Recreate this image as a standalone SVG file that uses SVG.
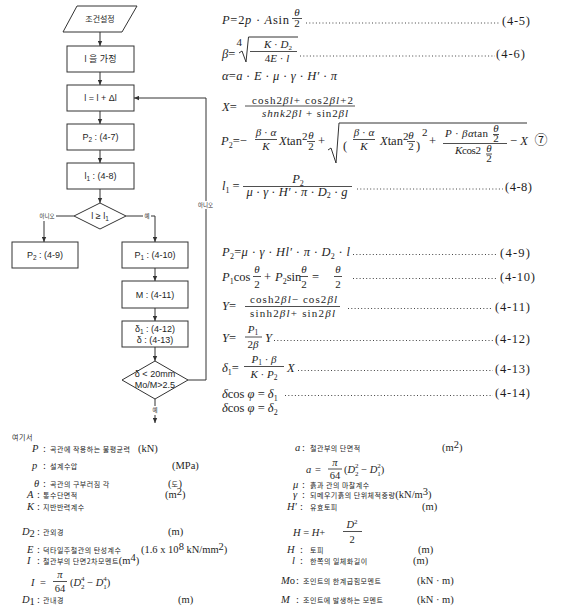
<svg xmlns="http://www.w3.org/2000/svg" width="570" height="615" viewBox="0 0 570 615">
<style>
text{fill:#1e1e1e}
.f{font-family:"Liberation Sans","Noto Sans CJK KR",sans-serif;font-size:9px;text-anchor:middle}
.fk{font-family:"Noto Sans CJK KR",sans-serif;font-size:8px;text-anchor:middle}
.lb{font-family:"Noto Sans CJK KR",sans-serif;font-size:5.5px;text-anchor:middle}
.nd{fill:#fff;stroke:#333;stroke-width:1}
.cn{fill:none;stroke:#333;stroke-width:1}
.m{font-family:"Liberation Serif",serif;font-size:12.5px}
.s{font-family:"Liberation Serif",serif;font-size:11px}
.i{font-style:italic}
.c{text-anchor:middle}
.dt{stroke:#444;stroke-width:1;stroke-dasharray:1 2.3;fill:none}
.bar{stroke:#222;stroke-width:0.8}
.k{font-family:"Noto Sans CJK KR",sans-serif;font-size:7px;letter-spacing:0.5px}
.lt{font-family:"Liberation Serif",serif;font-size:10.5px}
</style>
<defs>
<marker id="ar" markerWidth="5" markerHeight="5" refX="5" refY="2.5" orient="auto" markerUnits="userSpaceOnUse"><path d="M0,0.3 L5,2.5 L0,4.7 z" fill="#333"/></marker>
</defs>
<rect width="570" height="615" fill="#fff"/>

<!-- Flowchart nodes -->
<g id="n-start"><polygon class="nd" points="77,6 137,6 122,32 63,32"/><text class="fk" x="100" y="22">조건설정</text></g>
<g id="n-assume"><rect class="nd" x="67" y="46" width="67" height="26"/><text class="f" x="100.5" y="62">l 을 가정</text></g>
<g id="n-incr"><rect class="nd" x="67" y="85" width="67" height="26"/><text class="f" x="100.5" y="101">l = l + Δl</text></g>
<g id="n-p2"><rect class="nd" x="67" y="124" width="67" height="26"/><text class="f" x="100.5" y="140">P<tspan dy="2" font-size="6.5">2</tspan><tspan dy="-2"> : (4-7)</tspan></text></g>
<g id="n-l1"><rect class="nd" x="67" y="163" width="67" height="26"/><text class="f" x="100.5" y="179">l<tspan dy="2" font-size="6.5">1</tspan><tspan dy="-2"> : (4-8)</tspan></text></g>
<g id="n-d1"><polygon class="nd" points="100,203 126,216 100,229 74,216"/><text class="f" x="100" y="219">l ≥ l<tspan dy="2" font-size="6.5">1</tspan></text></g>
<g id="n-p2b"><rect class="nd" x="12" y="242" width="66" height="26"/><text class="f" x="45" y="258">P<tspan dy="2" font-size="6.5">2</tspan><tspan dy="-2"> : (4-9)</tspan></text></g>
<g id="n-p1"><rect class="nd" x="122" y="242" width="66" height="26"/><text class="f" x="155" y="258">P<tspan dy="2" font-size="6.5">1</tspan><tspan dy="-2"> : (4-10)</tspan></text></g>
<g id="n-m"><rect class="nd" x="122" y="281" width="66" height="27"/><text class="f" x="155" y="298">M : (4-11)</text></g>
<g id="n-delta"><rect class="nd" x="122" y="321" width="66" height="26"/><text class="f" x="155" y="332">δ<tspan dy="2" font-size="6.5">1</tspan><tspan dy="-2"> : (4-12)</tspan></text><text class="f" x="155" y="343">δ : (4-13)</text></g>
<g id="n-d2"><polygon class="nd" points="155,361 188,380 155,399 122,380"/><text class="f" x="155" y="377" font-size="8.5">δ &lt; 20mm</text><text class="f" x="155" y="388" font-size="8.5">Mo/M&gt;2.5</text></g>

<!-- Connectors -->
<g id="connectors">
<line class="cn" x1="100" y1="32" x2="100" y2="46" marker-end="url(#ar)"/>
<line class="cn" x1="100" y1="72" x2="100" y2="85" marker-end="url(#ar)"/>
<line class="cn" x1="100" y1="111" x2="100" y2="124" marker-end="url(#ar)"/>
<line class="cn" x1="100" y1="150" x2="100" y2="163" marker-end="url(#ar)"/>
<line class="cn" x1="100" y1="189" x2="100" y2="203" marker-end="url(#ar)"/>
<line class="cn" x1="74" y1="216" x2="56" y2="216"/>
<text class="lb" x="47" y="218">아니오</text>
<line class="cn" x1="44" y1="221" x2="44" y2="242" marker-end="url(#ar)"/>
<line class="cn" x1="126" y1="216" x2="143" y2="216"/>
<text class="lb" x="147" y="218">예</text>
<polyline class="cn" points="151,216 155,216 155,242" marker-end="url(#ar)"/>
<line class="cn" x1="155" y1="268" x2="155" y2="281" marker-end="url(#ar)"/>
<line class="cn" x1="155" y1="308" x2="155" y2="321" marker-end="url(#ar)"/>
<line class="cn" x1="155" y1="347" x2="155" y2="361" marker-end="url(#ar)"/>
<line class="cn" x1="155" y1="399" x2="155" y2="406"/>
<text class="lb" x="155" y="412">예</text>
<line class="cn" x1="155" y1="415" x2="155" y2="423" marker-end="url(#ar)"/>
<polyline class="cn" points="188,380 206,380 206,98 134,98" marker-end="url(#ar)"/>
<rect x="195" y="201" width="21" height="8" fill="#fff"/>
<text class="lb" x="205.5" y="207">아니오</text>
</g>

<!-- Equations -->
<g id="eq-4-5">
<text class="m" x="222" y="24" font-size="13" textLength="67"><tspan class="i">P</tspan>=2<tspan class="i">p</tspan> · <tspan class="i">A</tspan>sin</text>
<text class="s i c" x="297" y="16">θ</text><line class="bar" x1="292" y1="18.5" x2="302" y2="18.5"/><text class="s c" x="297" y="27">2</text>
<line class="dt" x1="306" y1="23" x2="500" y2="23"/>
<text class="m" x="502" y="25" textLength="28">(4-5)</text>
</g>
<g id="eq-4-6">
<text class="m" x="222" y="58" font-size="13"><tspan class="i">β</tspan>=</text>
<text class="s" x="236.5" y="46" font-size="7">4</text>
<path class="cn" stroke-width="0.9" d="M239,53 L242,51 L246,62 L248.5,37 L298,37"/>
<text class="s c" x="278" y="48"><tspan class="i">K</tspan> · <tspan class="i">D</tspan><tspan dy="2" font-size="7">2</tspan></text>
<line class="bar" x1="250" y1="51.5" x2="297" y2="51.5"/>
<text class="s c" x="277" y="62">4<tspan class="i">E</tspan> · <tspan class="i">l</tspan></text>
<line class="dt" x1="300" y1="56" x2="495" y2="56"/>
<text class="m" x="496" y="58" textLength="29">(4-6)</text>
</g>
<g id="eq-alpha">
<text class="m" x="222" y="80" font-size="13" textLength="115"><tspan class="i">α</tspan>=<tspan class="i">a</tspan> · <tspan class="i">E</tspan> · <tspan class="i">μ</tspan> · <tspan class="i">γ</tspan> · <tspan class="i">H′</tspan> · <tspan class="i">π</tspan></text>
</g>
<g id="eq-X">
<text class="m" x="222" y="111" font-size="13"><tspan class="i">X</tspan>=</text>
<text class="s" x="252" y="103.5" font-size="12" textLength="101">cosh2<tspan class="i">βl</tspan>+ cos2<tspan class="i">βl</tspan>+2</text>
<line class="bar" x1="245" y1="106" x2="355" y2="106"/>
<text class="s" x="262" y="116.5" font-size="12" textLength="86"><tspan class="i">shnk2βl</tspan> + sin2<tspan class="i">βl</tspan></text>
</g>
<g id="eq-4-7">
<text class="m" x="221" y="145" font-size="12"><tspan class="i">P</tspan><tspan dy="2.5" font-size="8">2</tspan><tspan dy="-2.5">=−</tspan></text>
<text class="s c" x="266" y="136" font-size="10"><tspan class="i">β</tspan> · <tspan class="i">α</tspan></text>
<line class="bar" x1="255" y1="139.5" x2="277" y2="139.5"/>
<text class="s c i" x="266" y="150" font-size="10">K</text>
<text class="m" x="279" y="145" font-size="12"><tspan class="i">X</tspan>tan</text>
<text class="s" x="302" y="140" font-size="7">2</text>
<text class="s i c" x="311" y="139" font-size="10">θ</text><line class="bar" x1="307" y1="141.5" x2="315" y2="141.5"/><text class="s c" x="311" y="150" font-size="10">2</text>
<text class="m" x="318" y="145" font-size="12">+</text>
<path class="cn" stroke-width="0.9" d="M328,150 L331,148 L336,163 L339,123 L527,123"/>
<text class="m" x="343" y="150" font-size="17">(</text>
<text class="s c" x="364" y="136" font-size="10"><tspan class="i">β</tspan> · <tspan class="i">α</tspan></text>
<line class="bar" x1="353" y1="139.5" x2="375" y2="139.5"/>
<text class="s c i" x="364" y="150" font-size="10">K</text>
<text class="m" x="380" y="145" font-size="12"><tspan class="i">X</tspan>tan</text>
<text class="s" x="403" y="140" font-size="7">2</text>
<text class="s i c" x="411" y="139" font-size="10">θ</text><line class="bar" x1="407" y1="141.5" x2="415" y2="141.5"/><text class="s c" x="411" y="150" font-size="10">2</text>
<text class="m" x="416" y="150" font-size="17">)</text>
<text class="s" x="422" y="136" font-size="7">2</text>
<text class="m" x="429" y="145" font-size="12">+</text>
<text class="s" x="445" y="137" font-size="10" textLength="43"><tspan class="i">P</tspan> · <tspan class="i">βα</tspan>tan</text>
<text class="s i c" x="496" y="132" font-size="7.5">θ</text><line class="bar" x1="493" y1="134.5" x2="499" y2="134.5" stroke-width="0.6"/><text class="s c" x="496" y="141.5" font-size="7.5">2</text>
<line class="bar" x1="443" y1="143.5" x2="507" y2="143.5"/>
<text class="s" x="455" y="154" font-size="10" textLength="26"><tspan class="i">K</tspan>cos2</text>
<text class="s i c" x="489" y="151.5" font-size="7.5">θ</text><line class="bar" x1="486" y1="154" x2="492" y2="154" stroke-width="0.6"/><text class="s c" x="489" y="161.5" font-size="7.5">2</text>
<text class="m" x="510" y="145" font-size="12">− <tspan class="i">X</tspan></text>
<text x="541" y="144" font-family="Noto Sans CJK KR, sans-serif" font-size="13" text-anchor="middle">⑦</text>
</g>
<g id="eq-4-8">
<text class="m" x="222" y="190" font-size="13"><tspan class="i">l</tspan><tspan dy="2.5" font-size="8">1</tspan><tspan dy="-2.5"> =</tspan></text>
<text class="m c" x="298" y="183"><tspan class="i">P</tspan><tspan dy="2.5" font-size="8">2</tspan></text>
<line class="bar" x1="243" y1="186.5" x2="352" y2="186.5"/>
<text class="m c" x="297" y="196" font-size="12" textLength="101"><tspan class="i">μ</tspan> · <tspan class="i">γ</tspan> · <tspan class="i">H′</tspan> · <tspan class="i">π</tspan> · <tspan class="i">D</tspan><tspan dy="2" font-size="8">2</tspan><tspan dy="-2"> · </tspan><tspan class="i">g</tspan></text>
<line class="dt" x1="357" y1="189" x2="503" y2="189"/>
<text class="m" x="505" y="191" textLength="27">(4-8)</text>
</g>
<g id="eq-4-9">
<text class="m" x="222" y="256" font-size="13" textLength="128"><tspan class="i">P</tspan><tspan dy="2.5" font-size="8">2</tspan><tspan dy="-2.5">=</tspan><tspan class="i">μ</tspan> · <tspan class="i">γ</tspan> · <tspan class="i">Hl′</tspan> · <tspan class="i">π</tspan> · <tspan class="i">D</tspan><tspan dy="2.5" font-size="8">2</tspan><tspan dy="-2.5"> · </tspan><tspan class="i">l</tspan></text>
<line class="dt" x1="353" y1="254.5" x2="498" y2="254.5"/>
<text class="m" x="500" y="257" textLength="30">(4-9)</text>
</g>
<g id="eq-4-10">
<text class="m" x="222" y="281" font-size="13"><tspan class="i">P</tspan><tspan dy="2.5" font-size="8">1</tspan><tspan dy="-2.5">cos</tspan></text>
<text class="s i c" x="257" y="273">θ</text><line class="bar" x1="253" y1="276.5" x2="261" y2="276.5"/><text class="s c" x="257" y="288">2</text>
<text class="m" x="264" y="281">+</text>
<text class="m" x="275" y="281" font-size="13"><tspan class="i">P</tspan><tspan dy="2.5" font-size="8">2</tspan><tspan dy="-2.5">sin</tspan></text>
<text class="s i c" x="304" y="273">θ</text><line class="bar" x1="300" y1="276.5" x2="308" y2="276.5"/><text class="s c" x="304" y="288">2</text>
<text class="m" x="312" y="281">=</text>
<text class="s i c" x="338" y="273">θ</text><line class="bar" x1="334" y1="276.5" x2="342" y2="276.5"/><text class="s c" x="338" y="288">2</text>
<line class="dt" x1="353" y1="278.5" x2="498" y2="278.5"/>
<text class="m" x="500" y="281" textLength="35">(4-10)</text>
</g>
<g id="eq-4-11">
<text class="m" x="222" y="310" font-size="13"><tspan class="i">Y</tspan>=</text>
<text class="s" x="250" y="303" font-size="12" textLength="87">cosh2<tspan class="i">βl</tspan>− cos2<tspan class="i">βl</tspan></text>
<line class="bar" x1="245" y1="306.5" x2="340" y2="306.5"/>
<text class="s" x="250" y="317" font-size="12" textLength="85">sinh2<tspan class="i">βl</tspan>+ sin2<tspan class="i">βl</tspan></text>
<line class="dt" x1="348" y1="308.5" x2="493" y2="308.5"/>
<text class="m" x="495" y="311" textLength="35">(4-11)</text>
</g>
<g id="eq-4-12">
<text class="m" x="222" y="342" font-size="13"><tspan class="i">Y</tspan>=</text>
<text class="s c" x="253" y="333"><tspan class="i">P</tspan><tspan dy="2" font-size="7.5">1</tspan></text>
<line class="bar" x1="245" y1="337" x2="262" y2="337"/>
<text class="s c" x="253" y="348">2<tspan class="i">β</tspan></text>
<text class="m i" x="265" y="342" font-size="13">Y</text>
<line class="dt" x1="274" y1="340.5" x2="493" y2="340.5"/>
<text class="m" x="495" y="343" textLength="35">(4-12)</text>
</g>
<g id="eq-4-13">
<text class="m" x="222" y="372" font-size="13"><tspan class="i">δ</tspan><tspan dy="2.5" font-size="8">1</tspan><tspan dy="-2.5">=</tspan></text>
<text class="s c" x="264" y="363"><tspan class="i">P</tspan><tspan dy="2" font-size="7.5">1</tspan><tspan dy="-2"> · </tspan><tspan class="i">β</tspan></text>
<line class="bar" x1="244" y1="366.5" x2="284" y2="366.5"/>
<text class="s c" x="264" y="378"><tspan class="i">K</tspan> · <tspan class="i">P</tspan><tspan dy="2" font-size="7.5">2</tspan></text>
<text class="m i" x="287" y="372" font-size="13">X</text>
<line class="dt" x1="298" y1="370.5" x2="493" y2="370.5"/>
<text class="m" x="495" y="373" textLength="35">(4-13)</text>
</g>
<g id="eq-4-14">
<text class="m" x="222" y="398" font-size="11.5"><tspan class="i">δ</tspan>cos <tspan class="i">φ</tspan> = <tspan class="i">δ</tspan><tspan dy="2.5" font-size="8">1</tspan></text>
<text class="m" x="222" y="412" font-size="11.5"><tspan class="i">δ</tspan>cos <tspan class="i">φ</tspan> = <tspan class="i">δ</tspan><tspan dy="2.5" font-size="8">2</tspan></text>
<line class="dt" x1="285" y1="395.5" x2="493" y2="395.5"/>
<text class="m" x="495" y="397" textLength="35">(4-14)</text>
</g>

<!-- Legend -->
<g id="legend-left">
<text class="k" x="12" y="440" font-size="7.5">여기서</text>
<text y="452"><tspan class="lt i" x="32">P</tspan><tspan class="lt" x="43">:</tspan><tspan class="k" x="50">곡관에 작용하는 불평균력</tspan><tspan class="lt" x="138">(kN)</tspan></text>
<text y="469"><tspan class="lt i" x="32">p</tspan><tspan class="lt" x="43">:</tspan><tspan class="k" x="50">설계수압</tspan><tspan class="lt" x="172">(MPa)</tspan></text>
<text y="487"><tspan class="lt i" x="34">θ</tspan><tspan class="lt" x="43">:</tspan><tspan class="k" x="50">곡관의 구부러짐 각</tspan><tspan class="lt" x="168">(</tspan><tspan class="k" font-size="6.5">도</tspan><tspan class="lt">)</tspan></text>
<text y="498"><tspan class="lt i" x="27">A</tspan><tspan class="lt" x="37">:</tspan><tspan class="k" x="43">통수단면적</tspan><tspan class="lt" x="165">(m</tspan><tspan class="lt" dy="-3.5" font-size="6">2</tspan><tspan class="lt" dy="3.5">)</tspan></text>
<text y="510"><tspan class="lt i" x="27">K</tspan><tspan class="lt" x="37">:</tspan><tspan class="k" x="43">지반반력계수</tspan></text>
<text y="535"><tspan class="lt i" x="22">D</tspan><tspan class="lt" dy="2" font-size="6.5">2</tspan><tspan class="lt" x="37" dy="-2">:</tspan><tspan class="k" x="43">관외경</tspan><tspan class="lt" x="168">(m)</tspan></text>
<text y="553"><tspan class="lt i" x="27">E</tspan><tspan class="lt" x="37">:</tspan><tspan class="k" x="43">덕타일주철관의 탄성계수</tspan><tspan class="lt" x="141">(1.6 x 10</tspan><tspan class="lt" dy="-3.5" font-size="6">8</tspan><tspan class="lt" dy="3.5"> kN/mm</tspan><tspan class="lt" dy="-3.5" font-size="6">2</tspan><tspan class="lt" dy="3.5">)</tspan></text>
<text y="564"><tspan class="lt i" x="27">I</tspan><tspan class="lt" x="37">:</tspan><tspan class="k" x="43">철관부의 단면2차모멘트</tspan><tspan class="lt">(m</tspan><tspan class="lt" dy="-3.5" font-size="6">4</tspan><tspan class="lt" dy="3.5">)</tspan></text>
<text class="lt i" x="31" y="586" font-size="13">I</text>
<text class="lt" x="40" y="586" font-size="13">=</text>
<text class="lt i c" x="60" y="578" font-size="11">π</text>
<line class="bar" x1="53" y1="581.5" x2="67" y2="581.5"/>
<text class="lt c" x="60" y="592" font-size="11">64</text>
<text class="lt" x="70" y="586" font-size="13">(<tspan class="i">D</tspan><tspan font-size="7" dy="-5">4</tspan><tspan font-size="7" dx="-3.5" dy="8">2</tspan><tspan dy="-3"> − </tspan><tspan class="i">D</tspan><tspan font-size="7" dy="-5">4</tspan><tspan font-size="7" dx="-3.5" dy="8">1</tspan><tspan dy="-3">)</tspan></text>
<text y="603"><tspan class="lt i" x="22">D</tspan><tspan class="lt" dy="2" font-size="6.5">1</tspan><tspan class="lt" x="37" dy="-2">:</tspan><tspan class="k" x="43">관내경</tspan><tspan class="lt" x="178">(m)</tspan></text>
</g>
<g id="legend-right">
<text y="451"><tspan class="lt i" x="295">a</tspan><tspan class="lt" x="302">:</tspan><tspan class="k" x="310">철관부의 단면적</tspan><tspan class="lt" x="442">(m</tspan><tspan class="lt" dy="-3.5" font-size="6">2</tspan><tspan class="lt" dy="3.5">)</tspan></text>
<text class="lt i" x="306" y="473" font-size="13">a</text>
<text class="lt" x="315" y="473" font-size="13">=</text>
<text class="lt i c" x="335" y="466" font-size="11">π</text>
<line class="bar" x1="328" y1="469" x2="342" y2="469"/>
<text class="lt c" x="335" y="479" font-size="11">64</text>
<text class="lt" x="344" y="473" font-size="13">(<tspan class="i">D</tspan><tspan font-size="7" dy="-5">2</tspan><tspan font-size="7" dx="-3.5" dy="8">2</tspan><tspan dy="-3"> − </tspan><tspan class="i">D</tspan><tspan font-size="7" dy="-5">2</tspan><tspan font-size="7" dx="-3.5" dy="8">1</tspan><tspan dy="-3">)</tspan></text>
<text y="488"><tspan class="lt i" x="293">μ</tspan><tspan class="lt" x="302">:</tspan><tspan class="k" x="310">흙과 관의 마찰계수</tspan></text>
<text y="498"><tspan class="lt i" x="293">γ</tspan><tspan class="lt" x="302">:</tspan><tspan class="k" x="310">되메우기흙의 단위체적중량</tspan><tspan class="lt">(kN/m</tspan><tspan class="lt" dy="-3.5" font-size="6">3</tspan><tspan class="lt" dy="3.5">)</tspan></text>
<text y="510"><tspan class="lt i" x="287">H′</tspan><tspan class="lt" x="300">:</tspan><tspan class="k" x="310">유효토피</tspan><tspan class="lt" x="422">(m)</tspan></text>
<text class="lt" x="293" y="536" font-size="13"><tspan class="i">H</tspan> = <tspan class="i">H</tspan>+</text>
<text class="lt c" x="352" y="528" font-size="11"><tspan class="i">D</tspan><tspan font-size="7" dy="-4">2</tspan></text>
<line class="bar" x1="343" y1="531.5" x2="362" y2="531.5"/>
<text class="lt c" x="352" y="543" font-size="11">2</text>
<text y="553"><tspan class="lt i" x="287">H</tspan><tspan class="lt" x="300">:</tspan><tspan class="k" x="310">토피</tspan><tspan class="lt" x="418">(m)</tspan></text>
<text y="564"><tspan class="lt i" x="292">l</tspan><tspan class="lt" x="300">:</tspan><tspan class="k" x="310">한쪽의 일체화길이</tspan><tspan class="lt" x="413">(m)</tspan></text>
<text y="584"><tspan class="lt i" x="281">M</tspan><tspan class="lt">o</tspan><tspan class="lt" x="296">:</tspan><tspan class="k" x="303">조인트의 한계굽힘모멘트</tspan><tspan class="lt" x="417">(kN · m)</tspan></text>
<text y="603"><tspan class="lt i" x="281">M</tspan><tspan class="lt" x="296">:</tspan><tspan class="k" x="303">조인트에 발생하는 모멘트</tspan><tspan class="lt" x="417">(kN · m)</tspan></text>
</g>
</svg>
